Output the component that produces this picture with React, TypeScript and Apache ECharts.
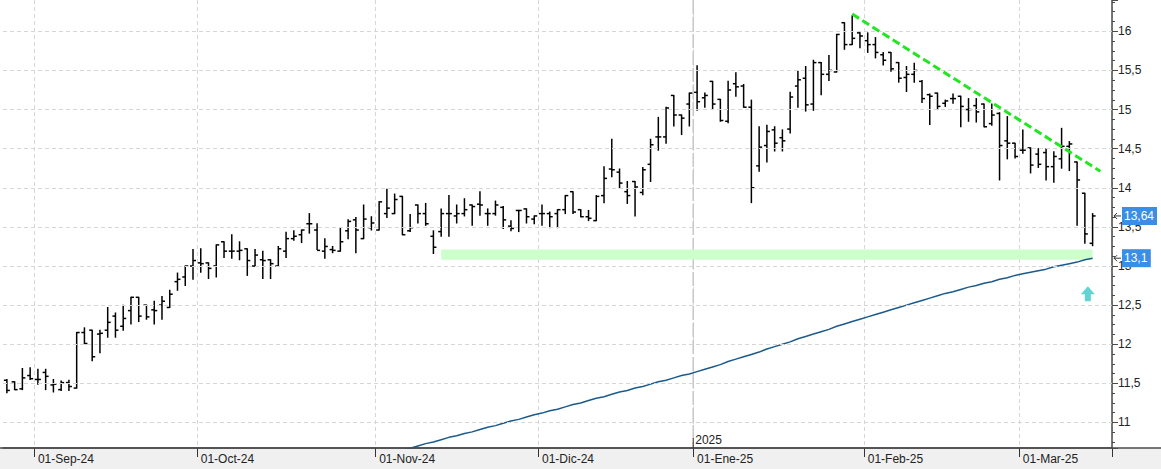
import React, { useEffect, useRef } from "react";
import * as echarts from "echarts";

// ---------- categories (trading days) ----------
const tradingDays: [string, number[]][] = [
  ["2024-08", [27, 28, 29, 30]],
  ["2024-09", [2, 3, 4, 5, 6, 9, 10, 11, 12, 13, 16, 17, 18, 19, 20, 23, 24, 25, 26, 27, 30]],
  ["2024-10", [1, 2, 3, 4, 7, 8, 9, 10, 11, 14, 15, 16, 17, 18, 21, 22, 23, 24, 25, 28, 29, 30, 31]],
  ["2024-11", [1, 4, 5, 6, 7, 8, 11, 12, 13, 14, 15, 18, 19, 20, 21, 22, 25, 26, 27, 28, 29]],
  ["2024-12", [2, 3, 4, 5, 6, 9, 10, 11, 12, 13, 16, 17, 18, 19, 20, 23, 24, 27, 30, 31]],
  ["2025-01", [2, 3, 6, 7, 8, 9, 10, 13, 14, 15, 16, 17, 20, 21, 22, 23, 24, 27, 28, 29, 30, 31]],
  ["2025-02", [3, 4, 5, 6, 7, 10, 11, 12, 13, 14, 17, 18, 19, 20, 21, 24, 25, 26, 27, 28]],
  ["2025-03", [3, 4, 5, 6, 7, 10, 11, 12, 13, 14]],
];
const futureDates = ["2025-03-17", "2025-03-18"];

const monthNames: Record<string, string> = {
  "01": "Ene", "02": "Feb", "03": "Mar", "04": "Abr", "05": "May", "06": "Jun",
  "07": "Jul", "08": "Ago", "09": "Sep", "10": "Oct", "11": "Nov", "12": "Dic",
};

// ---------- OHLC values ----------
const opens = [
  11.54, 11.52, 11.43, 11.60, 11.55, 11.64, 11.48, 11.42, 11.51, 11.44,
  12.15, 12.18, 12.13, 12.18, 12.36, 12.23, 12.43, 12.60, 12.50, 12.44,
  12.50, 12.47, 12.80, 12.86, 13.00, 13.04, 13.04, 13.00, 13.31, 13.19,
  13.19, 13.22, 13.00, 13.08, 13.08, 13.00, 13.19, 13.35, 13.40, 13.54,
  13.46, 13.19, 13.21, 13.19, 13.45, 13.59, 13.35, 13.49, 13.46, 13.67,
  13.67, 13.89, 13.45, 13.78, 13.67, 13.38, 13.44, 13.67, 13.64, 13.67,
  13.78, 13.79, 13.67, 13.67, 13.75, 13.51, 13.71, 13.73, 13.60, 13.67,
  13.67, 13.67, 13.72, 13.95, 13.72, 13.63, 13.58, 13.90, 14.24, 14.20,
  13.95, 14.08, 13.94, 14.30, 14.65, 14.65, 15.18, 14.93, 15.07, 15.22,
  15.15, 15.36, 15.13, 14.85, 15.33, 15.30, 15.03, 14.28, 14.54, 14.74,
  14.64, 14.75, 15.30, 15.40, 15.07, 15.60, 15.45, 15.48, 16.11, 15.83,
  15.98, 15.88, 15.83, 15.70, 15.73, 15.60, 15.41, 15.45, 15.36, 15.19,
  15.21, 15.08, 15.14, 15.17, 15.00, 15.05, 15.07, 14.82, 14.95, 14.60,
  14.57, 14.48, 14.51, 14.43, 14.45, 14.27, 14.37, 14.53, 14.33, 13.93,
  13.29,
];
const highs = [
  11.55, 11.52, 11.69, 11.70, 11.68, 11.68, 11.55, 11.53, 11.54, 12.15,
  12.21, 12.18, 12.18, 12.47, 12.40, 12.50, 12.60, 12.60, 12.50, 12.55,
  12.61, 12.69, 12.91, 13.00, 13.21, 13.22, 13.04, 13.27, 13.31, 13.40,
  13.31, 13.22, 13.21, 13.19, 13.08, 13.25, 13.43, 13.45, 13.46, 13.67,
  13.54, 13.35, 13.25, 13.48, 13.59, 13.62, 13.78, 13.63, 13.82, 13.98,
  13.92, 13.89, 13.66, 13.78, 13.80, 13.45, 13.73, 13.90, 13.78, 13.86,
  13.78, 13.95, 13.73, 13.83, 13.76, 13.58, 13.71, 13.73, 13.64, 13.78,
  13.69, 13.72, 13.90, 13.95, 13.72, 13.71, 13.90, 14.27, 14.62, 14.24,
  14.08, 14.08, 14.26, 14.62, 14.90, 15.03, 15.18, 14.93, 15.21, 15.56,
  15.21, 15.36, 15.13, 15.36, 15.47, 15.32, 15.12, 14.78, 14.80, 14.78,
  14.74, 15.22, 15.49, 15.55, 15.63, 15.60, 15.69, 15.96, 16.11, 16.20,
  15.98, 15.98, 15.92, 15.73, 15.73, 15.60, 15.55, 15.59, 15.37, 15.20,
  15.21, 15.12, 15.20, 15.17, 15.14, 15.14, 15.07, 15.07, 14.96, 14.91,
  14.57, 14.74, 14.51, 14.50, 14.50, 14.46, 14.76, 14.59, 14.33, 13.93,
  13.67,
];
const lows = [
  11.38, 11.42, 11.42, 11.55, 11.49, 11.42, 11.39, 11.41, 11.41, 11.44,
  12.01, 11.79, 11.89, 12.09, 12.09, 12.18, 12.26, 12.29, 12.32, 12.26,
  12.32, 12.47, 12.69, 12.75, 12.83, 12.92, 12.84, 12.86, 13.11, 13.10,
  13.08, 12.88, 13.00, 12.84, 12.84, 13.00, 13.11, 13.33, 13.30, 13.42,
  13.21, 13.10, 13.17, 13.19, 13.35, 13.17, 13.35, 13.46, 13.46, 13.62,
  13.67, 13.40, 13.44, 13.55, 13.52, 13.16, 13.38, 13.38, 13.55, 13.64,
  13.52, 13.65, 13.52, 13.65, 13.48, 13.45, 13.44, 13.55, 13.54, 13.52,
  13.49, 13.49, 13.67, 13.67, 13.63, 13.58, 13.58, 13.81, 14.14, 14.00,
  13.80, 13.64, 13.91, 14.08, 14.48, 14.57, 14.79, 14.68, 14.79, 14.99,
  15.03, 15.00, 14.85, 14.83, 15.17, 15.03, 13.81, 14.21, 14.33, 14.47,
  14.47, 14.70, 15.03, 14.98, 14.99, 15.19, 15.37, 15.48, 15.77, 15.83,
  15.79, 15.73, 15.66, 15.57, 15.49, 15.35, 15.23, 15.35, 15.09, 14.81,
  15.00, 15.04, 15.08, 14.78, 14.85, 14.84, 14.78, 14.80, 14.10, 14.37,
  14.38, 14.44, 14.19, 14.26, 14.10, 14.07, 14.25, 14.22, 13.52, 13.29,
  13.26,
];
const closes = [
  11.41, 11.42, 11.57, 11.56, 11.55, 11.59, 11.49, 11.51, 11.46, 12.15,
  12.01, 11.84, 12.14, 12.28, 12.18, 12.33, 12.60, 12.36, 12.35, 12.43,
  12.55, 12.64, 12.83, 13.00, 13.07, 13.03, 12.97, 13.27, 13.19, 13.19,
  13.20, 13.07, 13.14, 13.07, 13.03, 13.22, 13.35, 13.38, 13.46, 13.54,
  13.20, 13.25, 13.20, 13.31, 13.57, 13.46, 13.60, 13.55, 13.82, 13.74,
  13.85, 13.40, 13.49, 13.67, 13.54, 13.24, 13.67, 13.67, 13.67, 13.72,
  13.76, 13.78, 13.67, 13.78, 13.59, 13.48, 13.71, 13.63, 13.64, 13.67,
  13.63, 13.72, 13.90, 13.69, 13.63, 13.61, 13.89, 14.12, 14.23, 14.06,
  13.90, 14.01, 14.23, 14.55, 14.65, 15.02, 14.93, 14.89, 15.21, 15.10,
  15.18, 15.07, 14.86, 15.25, 15.29, 15.03, 14.00, 14.52, 14.72, 14.57,
  14.60, 15.16, 15.38, 15.06, 15.60, 15.45, 15.50, 15.96, 15.83, 15.91,
  15.94, 15.83, 15.73, 15.63, 15.52, 15.40, 15.45, 15.50, 15.14, 15.17,
  15.04, 15.11, 15.14, 15.04, 15.00, 14.97, 14.78, 14.93, 14.54, 14.57,
  14.40, 14.48, 14.29, 14.30, 14.27, 14.40, 14.53, 14.56, 14.10, 13.41,
  13.64,
];

// ---------- moving average (starts at bar index 50) ----------
const maStart = 50;
const maValues = [
  10.62, 10.65, 10.67, 10.70, 10.73, 10.75, 10.78, 10.81, 10.83, 10.86,
  10.88, 10.91, 10.94, 10.96, 10.99, 11.02, 11.04, 11.07, 11.10, 11.12,
  11.15, 11.17, 11.20, 11.23, 11.25, 11.28, 11.31, 11.33, 11.36, 11.39,
  11.41, 11.44, 11.46, 11.49, 11.52, 11.54, 11.57, 11.60, 11.62, 11.65,
  11.68, 11.71, 11.74, 11.78, 11.81, 11.84, 11.87, 11.90, 11.94, 11.97,
  12.00, 12.03, 12.07, 12.10, 12.13, 12.16, 12.19, 12.23, 12.26, 12.29,
  12.32, 12.35, 12.38, 12.41, 12.44, 12.47, 12.50, 12.53, 12.56, 12.59,
  12.62, 12.65, 12.67, 12.70, 12.73, 12.75, 12.78, 12.80, 12.83, 12.85,
  12.88, 12.90, 12.92, 12.94, 12.96, 12.99, 13.01, 13.03, 13.05, 13.08,
  13.10,
];

// ---------- annotations ----------
const yTicks = [11, 11.5, 12, 12.5, 13, 13.5, 14, 14.5, 15, 15.5, 16];
const supportBand = { fromIndex: 56, toIndex: 140, top: 13.21, bottom: 13.08 };
const trendLine = { fromIndex: 109, fromValue: 16.22, toIndex: 141, toValue: 14.21 };
const arrowMark = { index: 139, value: 12.645 };
const yearDivider = { beforeIndex: 88, afterIndex: 89, label: "2025" };

const FONT = "Liberation Sans, Arial, sans-serif";
const GRID = { left: 3, right: 49, top: 0, bottom: 21 };

const fmtNum = (v: number) => {
  let s = v.toFixed(2);
  s = s.replace(/0+$/, "").replace(/\.$/, "");
  return s.replace(".", ",");
};

export default function App() {
  const ref = useRef<HTMLDivElement>(null);

  useEffect(() => {
    if (!ref.current) return;
    document.body.style.margin = "0";
    const dates = tradingDays.flatMap(([m, ds]) => ds.map((d) => `${m}-${String(d).padStart(2, "0")}`));
    const allDates = dates.concat(futureDates);

    const isMonthStart = (index: number) => {
      if (index === 0 || index >= allDates.length) return false;
      return allDates[index].slice(0, 7) !== allDates[index - 1].slice(0, 7);
    };

    const ohlc = dates.map((_, i) => [i, opens[i], closes[i], lows[i], highs[i]]);
    const maData = maValues.map((v, k) => [dates[maStart + k], v]);

    const chart = echarts.init(ref.current, null, { renderer: "svg" });

    const option: any = {
      animation: false,
      backgroundColor: "transparent",
      textStyle: { fontFamily: FONT },
      grid: { ...GRID, containLabel: false },
      xAxis: {
        type: "category",
        data: allDates,
        boundaryGap: true,
        axisLine: { show: true, lineStyle: { color: "#4a4a4a", width: 1.5 } },
        axisTick: {
          show: true,
          interval: (i: number) => isMonthStart(i),
          length: 9,
          lineStyle: { color: "#333", width: 1 },
        },
        axisLabel: {
          interval: (i: number) => isMonthStart(i),
          formatter: (v: string) => `01-${monthNames[v.slice(5, 7)]}-${v.slice(2, 4)}`,
          align: "left",
          color: "#222",
          fontSize: 12,
          fontFamily: FONT,
          margin: 5,
        },
        splitLine: {
          show: true,
          interval: (i: number) => isMonthStart(i),
          lineStyle: { color: "#d6d6d6", type: [4, 3], width: 1 },
        },
      },
      yAxis: {
        type: "value",
        position: "right",
        min: 10.674,
        max: 16.4,
        splitNumber: 11,
        scale: true,
        axisLine: { show: true, lineStyle: { color: "#4a4a4a", width: 1.5 } },
        axisTick: { show: true, length: 6, lineStyle: { color: "#4a4a4a" } },
        minorTick: { show: true, splitNumber: 4, length: 3, lineStyle: { color: "#4a4a4a" } },
        axisLabel: {
          color: "#222",
          fontSize: 12,
          fontFamily: FONT,
          margin: 6,
          formatter: (v: number) =>
            yTicks.some((t) => Math.abs(t - v) < 1e-6) ? fmtNum(v) : "",
        },
        splitLine: { show: false },
      },
      series: [
        {
          type: "line",
          data: [],
          silent: true,
          z: 1,
          markLine: {
            silent: true,
            symbol: ["none", "none"],
            label: { show: false },
            lineStyle: { color: "#d6d6d6", type: [4, 3], width: 1 },
            data: yTicks.map((v) => ({ yAxis: v })),
          },
        },
        {
          type: "custom",
          z: 3,
          silent: true,
          data: ohlc,
          encode: { x: 0, y: [1, 2, 3, 4] },
          renderItem: (_params: any, api: any) => {
            const idx = api.value(0);
            const o = api.coord([idx, api.value(1)]);
            const c = api.coord([idx, api.value(2)]);
            const l = api.coord([idx, api.value(3)]);
            const h = api.coord([idx, api.value(4)]);
            const x = o[0];
            const t = 3;
            const style = { stroke: "#000", lineWidth: 1.5 };
            return {
              type: "group",
              children: [
                { type: "line", shape: { x1: x, y1: h[1] - 0.5, x2: x, y2: l[1] + 0.5 }, style },
                { type: "line", shape: { x1: x - t, y1: o[1], x2: x, y2: o[1] }, style },
                { type: "line", shape: { x1: x, y1: c[1], x2: x + t, y2: c[1] }, style },
              ],
            };
          },
        },
        {
          type: "line",
          data: maData,
          z: 4,
          silent: true,
          symbol: "none",
          lineStyle: { color: "#1b5b8c", width: 1.5 },
          clip: true,
          markArea: {
            silent: true,
            itemStyle: { color: "#ccffcc", opacity: 1 },
            data: [
              [
                { coord: [dates[supportBand.fromIndex], supportBand.top] },
                { coord: [dates[supportBand.toIndex], supportBand.bottom] },
              ],
            ],
          },
          markLine: {
            silent: true,
            symbol: ["none", "none"],
            label: { show: false },
            lineStyle: { color: "#22e622", width: 3, type: [8, 4] },
            data: [
              [
                { coord: [allDates[trendLine.fromIndex], trendLine.fromValue] },
                { coord: [allDates[trendLine.toIndex], trendLine.toValue] },
              ],
            ],
          },
        },
        {
          type: "scatter",
          z: 5,
          silent: true,
          data: [[dates[arrowMark.index], arrowMark.value]],
          symbol: "path://M7,0 L14,8 L10,8 L10,15 L4,15 L4,8 L0,8 Z",
          symbolSize: [14, 15],
          symbolOffset: [3, 0],
          itemStyle: { color: "#3cc9c9" },
        },
      ],
    };
    chart.setOption(option);

    const W = chart.getWidth();
    const H = chart.getHeight();
    const plotBottom = H - GRID.bottom;
    const rightX = W - GRID.right;
    const xOf = (i: number) => chart.convertToPixel({ xAxisIndex: 0 }, allDates[i]) as number;
    const yOf = (v: number) => chart.convertToPixel({ yAxisIndex: 0 }, v) as number;
    const divX = (xOf(yearDivider.beforeIndex) + xOf(yearDivider.afterIndex)) / 2;

    const lastClose = closes[closes.length - 1];
    const lastMa = maValues[maValues.length - 1];

    const priceTag = (v: number) => {
      const y = yOf(v);
      const txt = fmtNum(v);
      const w = txt.length * 6.2 + 4;
      return [
        { type: "line", z: 20, shape: { x1: rightX + 2, y1: y, x2: rightX + 9, y2: y }, style: { stroke: "#333", lineWidth: 1 } },
        { type: "polyline", z: 20, shape: { points: [[rightX + 5, y - 3], [rightX + 2, y], [rightX + 5, y + 3]] }, style: { stroke: "#333", lineWidth: 1, fill: null } },
        { type: "rect", z: 20, shape: { x: rightX + 10, y: y - 9, width: w, height: 18 }, style: { fill: "#3a8ee4" } },
        {
          type: "text", z: 21, x: rightX + 12, y: y,
          style: { text: txt, fill: "#fff", font: `12px ${FONT}`, textVerticalAlign: "middle", verticalAlign: "middle" },
        },
      ];
    };

    chart.setOption({
      graphic: [
        { type: "line", z: 10, shape: { x1: 0, y1: plotBottom, x2: W, y2: plotBottom }, style: { stroke: "#4a4a4a", lineWidth: 1.5 } },
        { type: "line", z: 0, shape: { x1: divX, y1: 0, x2: divX, y2: plotBottom }, style: { stroke: "#c8c8c8", lineWidth: 1.5, lineDash: [14, 3] } },
        { type: "line", z: 10, shape: { x1: divX, y1: plotBottom - 10, x2: divX, y2: plotBottom }, style: { stroke: "#333", lineWidth: 1 } },
        {
          type: "text", z: 10, x: divX + 2, y: plotBottom - 2,
          style: { text: yearDivider.label, fill: "#222", font: `12px ${FONT}`, textVerticalAlign: "bottom", verticalAlign: "bottom" },
        },
        ...priceTag(lastClose),
        ...priceTag(lastMa),
      ],
    });

    return () => chart.dispose();
  }, []);

  return (
    <div
      ref={ref}
      style={{
        position: "fixed",
        left: 0,
        top: 0,
        width: 1161,
        height: 469,
        background: "linear-gradient(to bottom, #ffffff 0px, #ffffff 448px, #f0f0f0 448px, #f0f0f0 469px)",
      }}
    />
  );
}
